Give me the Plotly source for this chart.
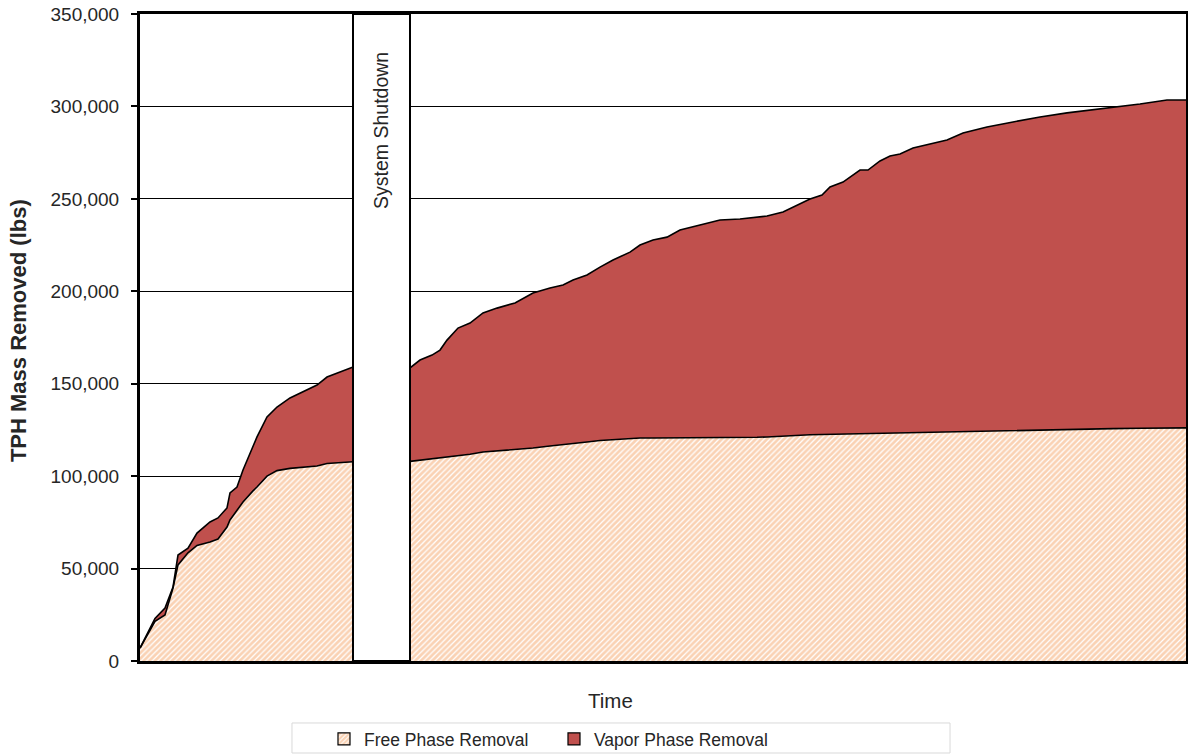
import plotly.graph_objects as go

# Time positions (arbitrary time index, no labels shown on the axis)
time_index = [0, 15, 25, 33, 38, 48, 57, 70, 78, 87,
              90, 97, 103, 113, 117, 127, 137, 150, 163, 177,
              187, 200, 213, 270, 280, 292, 300, 307, 318, 330,
              343, 357, 375, 393, 410, 423, 433, 447, 460, 473,
              490, 500, 513, 527, 540, 560, 580, 600, 617, 627,
              643, 657, 670, 682, 690, 703, 720, 728, 740, 750,
              760, 773, 807, 823, 847, 873, 900, 927, 953, 973,
              1000, 1027, 1046]

# Cumulative free phase removal (lbs)
free_phase = [7000, 21500, 24900, 39500, 52000, 58500, 62500, 64400, 66000, 72500,
              76300, 81500, 86000, 92000, 94100, 100000, 103000, 104200, 105000, 105500,
              106800, 107400, 107800, 108000, 108600, 109200, 109800, 110300, 110900, 111800,
              113100, 113600, 114400, 115200, 116300, 117200, 117900, 118500, 119300, 119800,
              120500, 120600, 120600, 120600, 120600, 120600, 120600, 120800, 121000, 121200,
              121700, 122200, 122400, 122500, 122600, 122800, 122900, 123000, 123100, 123300,
              123400, 123500, 123900, 124100, 124400, 124700, 125000, 125300, 125600, 125700,
              125900, 126000, 126100]

# Cumulative total removal (free phase + vapor phase), lbs
total_removed = [7000, 23000, 28700, 40000, 57300, 61000, 69200, 75200, 77400, 82800,
                 90900, 94100, 103300, 115800, 121200, 132000, 137400, 142300, 145500, 149300,
                 153600, 156300, 159000, 158500, 162800, 165500, 168200, 173600, 180100, 182800,
                 188300, 190900, 193700, 199100, 201800, 203400, 206100, 208800, 213100, 216900,
                 221200, 225000, 227700, 229300, 233100, 235900, 238600, 239100, 240200, 240700,
                 242900, 246700, 249900, 252100, 256400, 259100, 265600, 265600, 270500, 273200,
                 274300, 277500, 281800, 285600, 288900, 291600, 294300, 296500, 298100, 299700,
                 301300, 303500, 303500]

series_names = ["Free Phase Removal", "Vapor Phase Removal"]
y_ticks = [0, 50000, 100000, 150000, 200000, 250000, 300000, 350000]
shutdown_start, shutdown_end = 213, 270

FONT = "Liberation Sans, Arial"
TXT = "#262626"
RED = "#C0504D"
HATCH = dict(shape="/", fgcolor="#F5A66A", bgcolor="#FFFFFF", size=4, solidity=0.7)

fig = go.Figure()
fig.add_trace(go.Scatter(
    x=time_index, y=free_phase, name=series_names[0], mode="lines",
    line=dict(color="black", width=1.6), fill="tozeroy", fillcolor="white",
    fillpattern=HATCH, hoverinfo="skip", showlegend=False))
fig.add_trace(go.Scatter(
    x=time_index, y=total_removed, name=series_names[1], mode="lines",
    line=dict(color="black", width=1.6), fill="tonexty", fillcolor=RED,
    hoverinfo="skip", showlegend=False))

# Legend-only entries (square swatches)
fig.add_trace(go.Bar(x=[None], y=[None], name=series_names[0],
                     marker=dict(color="white", pattern=HATCH,
                                 line=dict(color="black", width=1.2))))
fig.add_trace(go.Bar(x=[None], y=[None], name=series_names[1],
                     marker=dict(color=RED, line=dict(color="black", width=1.2))))

# System shutdown box
fig.add_shape(type="rect", xref="x", yref="y", x0=shutdown_start, x1=shutdown_end,
              y0=0, y1=350000, fillcolor="white", line=dict(color="black", width=2),
              layer="above")
fig.add_annotation(x=(shutdown_start + shutdown_end) / 2, y=287000, xref="x", yref="y",
                   text="System Shutdown", textangle=-90, showarrow=False,
                   xanchor="center", yanchor="middle",
                   font=dict(family=FONT, size=19.5, color=TXT))

# Legend border box
fig.add_shape(type="rect", xref="paper", yref="paper", x0=0.1453, x1=0.7744,
              y0=-0.1422, y1=-0.0958, line=dict(color="#D9D9D9", width=1),
              fillcolor="rgba(0,0,0,0)")

# Axis titles
fig.add_annotation(x=0.4494, y=-0.0603, xref="paper", yref="paper", text="Time",
                   showarrow=False, xanchor="center", yanchor="middle",
                   font=dict(family=FONT, size=20.5, color=TXT))
fig.add_annotation(x=-0.1166, y=0.51, xref="paper", yref="paper",
                   text="<b>TPH Mass Removed (lbs)</b>", textangle=-90, showarrow=False,
                   xanchor="center", yanchor="middle", borderpad=0,
                   font=dict(family=FONT, size=22, color=TXT))

fig.update_layout(
    width=1188, height=755,
    margin=dict(l=140, r=2, t=14, b=94, autoexpand=False),
    paper_bgcolor="white", plot_bgcolor="white",
    font=dict(family=FONT, color=TXT),
    showlegend=True,
    legend=dict(orientation="h", x=0.1759, xanchor="left", y=-0.1206, yanchor="middle",
                traceorder="normal", font=dict(size=17.5, color=TXT), entrywidth=185,
                bgcolor="rgba(0,0,0,0)", borderwidth=0),
    xaxis=dict(range=[0, 1046], showticklabels=False, ticks="", showgrid=False,
               zeroline=False, showline=True, linecolor="black", linewidth=3, mirror=True,
               automargin=False),
    yaxis=dict(range=[0, 350000], tickvals=y_ticks, tickformat=",", showgrid=True,
               gridcolor="black", gridwidth=1, zeroline=False, showline=True,
               linecolor="black", linewidth=3, mirror=True, ticks="outside", ticklen=6,
               tickwidth=2, tickcolor="black", ticklabelstandoff=8, automargin=False,
               ticklabeloverflow="allow", tickfont=dict(size=19, color=TXT)),
)

# Remove the browser's default 8px page margin so the figure fills the window exactly
fig.write_html("out.html", config={"displayModeBar": False},
               post_script="document.body.style.margin='0';document.body.style.overflow='hidden';")
